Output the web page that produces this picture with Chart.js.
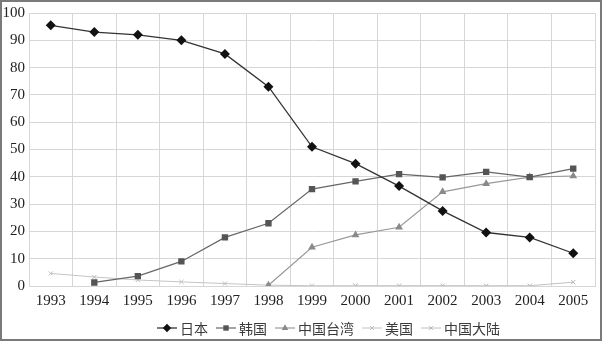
<!DOCTYPE html>
<html>
<head>
<meta charset="utf-8">
<script src="https://cdn.jsdelivr.net/npm/chart.js@4/dist/chart.umd.min.js"></script>
<style>
  html, body { margin: 0; padding: 0; background: #fff; }
  #wrap { width: 602px; height: 341px; position: relative; }
</style>
</head>
<body>
<div id="wrap"><canvas id="c" width="602" height="341"></canvas></div>
<script>
// 年份
const years = ['1993', '1994', '1995', '1996', '1997', '1998', '1999', '2000', '2001', '2002', '2003', '2004', '2005'];

// 各国家/地区份额 (%)
const japan   = [95.5, 93, 92, 90, 85, 73, 51, 44.8, 36.6, 27.5, 19.6, 17.8, 12];
const korea   = [null, 1.3, 3.6, 9, 17.8, 23, 35.5, 38.3, 41, 39.8, 41.8, 39.9, 43];
const taiwan  = [null, null, null, null, null, 0.3, 14.2, 18.7, 21.5, 34.5, 37.5, 39.9, 40.3];
const usa     = [4.6, 3.3, 2.2, 1.5, 0.9, 0.3, 0.1, 0.1, null, null, null, null, null];
const mainland = [null, null, null, null, null, null, null, 0.1, 0.1, 0.1, 0.1, 0.1, 1.4];

const seriesNames = ['日本', '韩国', '中国台湾', '美国', '中国大陆'];

const serif = "'Liberation Serif', 'DejaVu Serif', serif";
const cjk = "'Noto Sans CJK SC', sans-serif";

const makeSet = (label, data, color, lineColor, style, r, lw) => ({
  label: label,
  data: data,
  borderColor: lineColor,
  backgroundColor: color,
  pointBackgroundColor: color,
  pointBorderColor: color,
  pointStyle: style,
  pointRadius: r,
  pointBorderWidth: style === 'crossRot' ? 1 : 0,
  borderWidth: lw,
  tension: 0,
  spanGaps: false
});

const datasets = [
  makeSet(seriesNames[0], japan, '#111', '#333', 'rectRot', 5, 1.3),
  makeSet(seriesNames[1], korea, '#555', '#666', 'rect', 4.5, 1.2),
  makeSet(seriesNames[2], taiwan, '#8a8a8a', '#999', 'triangle', 4.5, 1.2),
  makeSet(seriesNames[3], usa, '#bdbdbd', '#c4c4c4', 'crossRot', 3, 1),
  makeSet(seriesNames[4], mainland, '#b5b5b5', '#c0c0c0', 'crossRot', 3, 1)
];

// 外框 + 底部图例
const framePlugin = {
  id: 'frame',
  afterDraw(chart) {
    const ctx = chart.ctx;
    ctx.save();
    ctx.strokeStyle = '#7a7a7a';
    ctx.lineWidth = 2;
    ctx.strokeRect(1, 1, chart.width - 2, chart.height - 2);

    // 图例
    ctx.font = '14px ' + cjk;
    ctx.textBaseline = 'middle';
    const y = 328;
    const lineLen = 20, gap1 = 3, gap2 = 8;
    let x = 157;
    chart.data.datasets.forEach(ds => {
      const w = ctx.measureText(ds.label).width;
      ctx.strokeStyle = ds.borderColor;
      ctx.lineWidth = ds.borderWidth;
      ctx.beginPath();
      ctx.moveTo(x, y);
      ctx.lineTo(x + lineLen, y);
      ctx.stroke();
      ctx.fillStyle = ds.pointBackgroundColor;
      ctx.strokeStyle = ds.pointBorderColor;
      Chart.helpers.drawPoint(ctx, {
        pointStyle: ds.pointStyle,
        radius: ds.pointRadius * 0.85,
        rotation: 0,
        borderWidth: ds.pointBorderWidth
      }, x + lineLen / 2, y);
      ctx.fillStyle = '#3a3a3a';
      ctx.textAlign = 'left';
      ctx.fillText(ds.label, x + lineLen + gap1, y + 1);
      x += lineLen + gap1 + w + gap2;
    });
    ctx.restore();
  }
};

new Chart(document.getElementById('c'), {
  type: 'line',
  data: { labels: years, datasets: datasets },
  options: {
    responsive: false,
    animation: false,
    layout: { padding: { top: 8, right: 7, bottom: 30, left: 0 } },
    plugins: {
      legend: { display: false },
      tooltip: { enabled: false }
    },
    scales: {
      x: {
        offset: true,
        grid: { offset: true, color: '#d6d6d6', lineWidth: 1, drawTicks: false },
        border: { color: '#d6d6d6' },
        ticks: { font: { family: serif, size: 15 }, color: '#222', padding: 6, maxRotation: 0, autoSkip: false },
        afterFit(scale) { scale.height = 25; }
      },
      y: {
        min: 0,
        max: 100,
        grid: { color: '#d6d6d6', lineWidth: 1, drawTicks: false },
        border: { color: '#d6d6d6' },
        ticks: { stepSize: 10, font: { family: serif, size: 15 }, color: '#222', padding: 4 },
        afterFit(scale) { scale.width = 29; }
      }
    }
  },
  plugins: [framePlugin]
});
</script>
</body>
</html>
